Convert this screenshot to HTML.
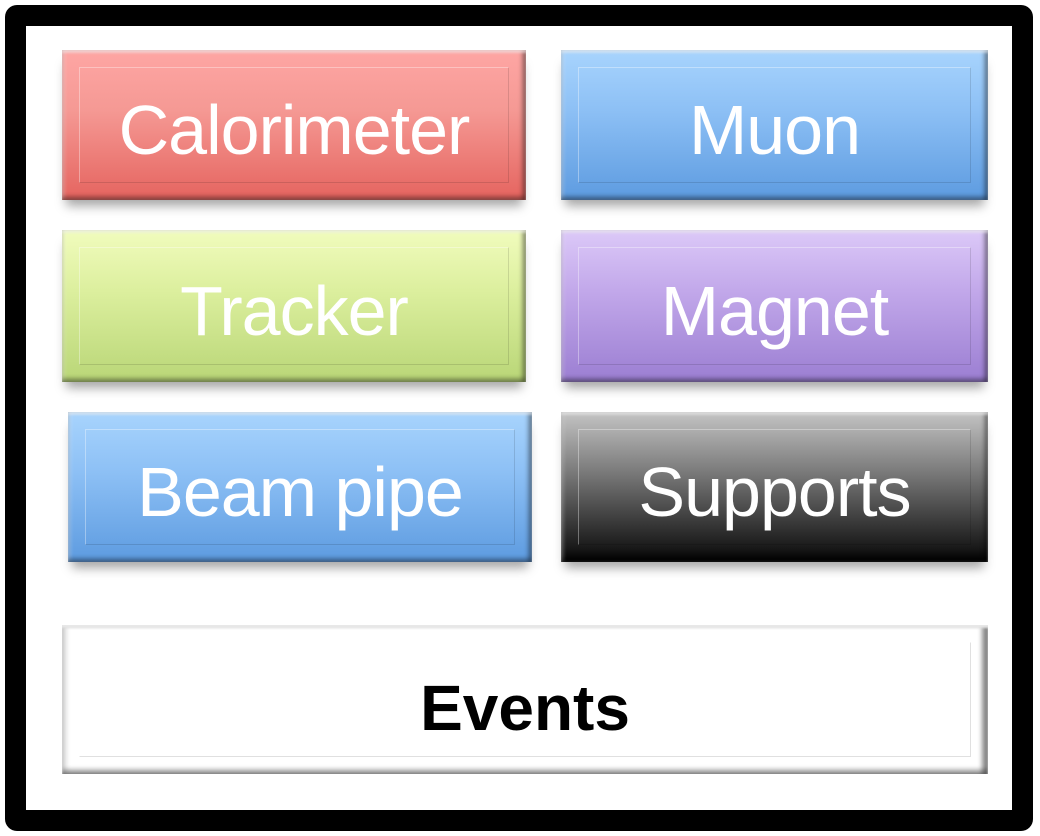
<!DOCTYPE html>
<html><head><style>
body{margin:0;width:1040px;height:836px;background:#fff;position:relative;overflow:hidden;font-family:"Liberation Sans",sans-serif}
.outer{position:absolute;left:5px;top:5px;width:986px;height:784px;border:21px solid #000;border-radius:12px;background:#fff}
.b{position:absolute;box-sizing:border-box;color:#fff;font-size:70px;display:flex;align-items:center;justify-content:center;
box-shadow:0 10px 10px -4px rgba(0,0,0,0.35), inset 0 3px 2px rgba(255,255,255,0.5), inset -4px 0 4px rgba(0,0,0,0.35), inset 0 -4px 4px rgba(0,0,0,0.3), inset 3px 0 3px rgba(255,255,255,0.25)}
.b::before{content:"";position:absolute;left:17px;right:17px;top:17px;bottom:17px;border:1.5px solid rgba(255,255,255,0.35);border-bottom-color:rgba(0,0,0,0.12);border-right-color:rgba(0,0,0,0.12)}
.b span{position:relative;top:5px;letter-spacing:-1px}
</style></head><body>
<div class="outer"></div>
<div class="b" style="left:62px;top:50px;width:464px;height:150px;background:linear-gradient(#fea6a4,#f59994 40%,#e5645f)"><span>Calorimeter</span></div>
<div class="b" style="left:561px;top:50px;width:427px;height:150px;background:linear-gradient(#a8d4fd,#8dc0f5 40%,#5d9be0)"><span>Muon</span></div>
<div class="b" style="left:62px;top:230px;width:464px;height:152px;background:linear-gradient(#f1fcbd,#dcef9e 40%,#b9d677)"><span>Tracker</span></div>
<div class="b" style="left:561px;top:230px;width:427px;height:152px;background:linear-gradient(#dcc9f8,#c2a8ea 40%,#9b7ed2)"><span>Magnet</span></div>
<div class="b" style="left:68px;top:412px;width:464px;height:150px;background:linear-gradient(#a8d4fd,#8dc0f5 40%,#5d9be0)"><span>Beam pipe</span></div>
<div class="b" style="left:561px;top:412px;width:427px;height:150px;background:linear-gradient(#c4c4c4,#7a7a7a 40%,#1a1a1a 90%,#000)"><span>Supports</span></div>
<div class="b" style="left:62px;top:625px;width:926px;height:149px;background:#fff;color:#000;font-weight:bold;font-size:64px;box-shadow:inset 0 3px 2px #e8e8e8, inset -6px 0 5px rgba(0,0,0,0.45), inset 0 -5px 4px rgba(0,0,0,0.3), inset 5px 0 4px rgba(0,0,0,0.12)"><span style="top:8px;letter-spacing:0">Events</span></div>
</body></html>
